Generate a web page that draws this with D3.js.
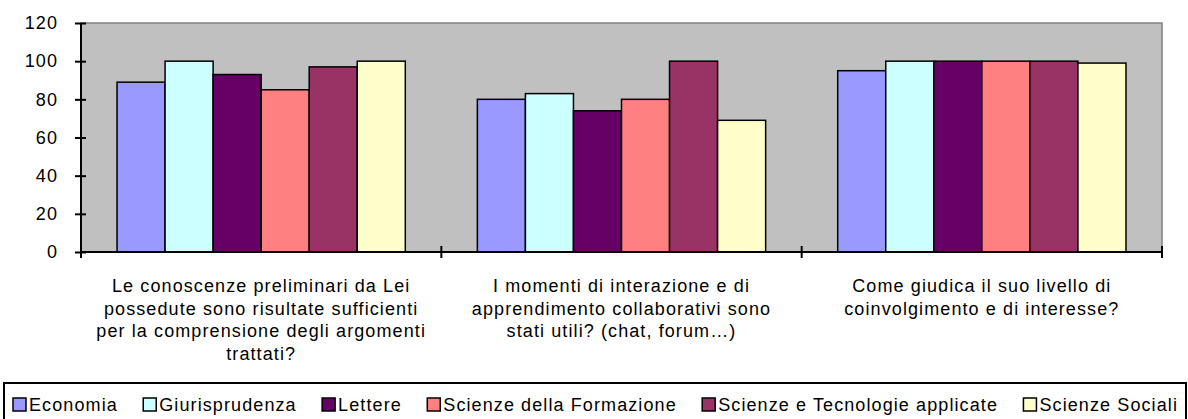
<!DOCTYPE html>
<html>
<head>
<meta charset="utf-8">
<script src="https://cdn.jsdelivr.net/npm/d3@7"></script>
<style>
  body { margin: 0; background: #fff; }
  text { font-family: "Liberation Sans", Arial, sans-serif; }
</style>
</head>
<body>
<div id="chart"></div>
<script>
// categorie (domande) e serie (facoltà)
const categories = [
  ["Le conoscenze preliminari da Lei", "possedute sono risultate sufficienti", "per la comprensione degli argomenti", "trattati?"],
  ["I momenti di interazione e di", "apprendimento collaborativi sono", "stati utili? (chat, forum…)"],
  ["Come giudica il suo livello di", "coinvolgimento e di interesse?"]
];
const series = ["Economia", "Giurisprudenza", "Lettere", "Scienze della Formazione", "Scienze e Tecnologie applicate", "Scienze Sociali"];
const economia = [89, 80, 95];
const giurisprudenza = [100, 83, 100];
const lettere = [93, 74, 100];
const formazione = [85, 80, 100];
const tecnologie = [97, 100, 100];
const sociali = [100, 69, 99];
const yTicks = [0, 20, 40, 60, 80, 100, 120];
const colori = ["#9999FF", "#CCFFFF", "#660066", "#FF8080", "#993366", "#FFFFCC"];

const values = [economia, giurisprudenza, lettere, formazione, tecnologie, sociali];

const W = 1188, H = 419;
const margin = { top: 23, right: 26, bottom: 167, left: 81 },
      width = W - margin.left - margin.right,
      height = H - margin.top - margin.bottom;

const FS = 18, LS = 1.1; // dimensione e spaziatura del testo

const svg = d3.select("#chart")
    .append("svg")
    .attr("width", W)
    .attr("height", H);

const g = svg.append("g")
    .attr("transform", `translate(${margin.left},${margin.top})`);

const x0 = d3.scaleBand()
    .domain(d3.range(categories.length))
    .range([0, width]);

const x1 = d3.scaleBand()
    .domain(d3.range(series.length))
    .range([0, x0.bandwidth()])
    .paddingOuter(0.75);

const y = d3.scaleLinear()
    .domain([0, 120])
    .range([height, 0]);

// sfondo area del grafico
g.append("rect")
    .attr("width", width)
    .attr("height", height)
    .attr("fill", "#C0C0C0")
    .attr("stroke", "#808080")
    .attr("stroke-width", 1.5);

// barre
const gruppi = g.selectAll(".gruppo")
    .data(categories)
    .enter()
    .append("g")
    .attr("class", "gruppo")
    .attr("transform", (d, i) => `translate(${x0(i)},0)`);

gruppi.selectAll("rect")
    .data((d, i) => values.map((s, j) => ({ s: j, v: s[i] })))
    .enter()
    .append("rect")
    .attr("x", d => x1(d.s))
    .attr("y", d => y(d.v))
    .attr("width", x1.bandwidth())
    .attr("height", d => y(0) - y(d.v))
    .attr("fill", d => colori[d.s])
    .attr("stroke", "#000")
    .attr("stroke-width", 1.5);

// asse Y
const yAxis = g.append("g")
    .call(d3.axisLeft(y).tickValues(yTicks).tickSize(6).tickPadding(17));
yAxis.select(".domain").attr("stroke", "#000").attr("stroke-width", 2).attr("d", `M0,0V${height}`);
yAxis.selectAll(".tick line").attr("x1", -6).attr("x2", 5).attr("stroke-width", 2);
yAxis.selectAll(".tick text")
    .attr("font-size", FS)
    .attr("letter-spacing", LS)
    .attr("fill", "#000")
    .style("font-family", "'Liberation Sans', Arial, sans-serif");

// asse X
const xAxis = g.append("g")
    .attr("transform", `translate(0,${height})`);
xAxis.append("line")
    .attr("x1", 0).attr("x2", width)
    .attr("stroke", "#000").attr("stroke-width", 2);
xAxis.selectAll(".tk")
    .data(d3.range(categories.length + 1))
    .enter()
    .append("line")
    .attr("x1", i => i < categories.length ? x0(i) : width)
    .attr("x2", i => i < categories.length ? x0(i) : width)
    .attr("y1", -6).attr("y2", 6)
    .attr("stroke", "#000").attr("stroke-width", 2);

// etichette delle categorie
const labels = xAxis.selectAll(".lab")
    .data(categories)
    .enter()
    .append("text")
    .attr("text-anchor", "middle")
    .attr("font-size", FS)
    .attr("letter-spacing", LS)
    .attr("fill", "#000")
    .attr("x", (d, i) => x0(i) + x0.bandwidth() / 2)
    .attr("y", 40);
labels.selectAll("tspan")
    .data(d => d)
    .enter()
    .append("tspan")
    .attr("x", function() { return this.parentNode.getAttribute("x"); })
    .attr("dy", (d, i) => i === 0 ? 0 : 22.5)
    .text(d => d);

// legenda
const legenda = svg.append("g");
legenda.append("rect")
    .attr("x", 4).attr("y", 383)
    .attr("width", 1182).attr("height", 40)
    .attr("fill", "#fff")
    .attr("stroke", "#000")
    .attr("stroke-width", 2);

const voci = legenda.selectAll(".voce")
    .data(series)
    .enter()
    .append("g");
voci.append("rect")
    .attr("width", 13).attr("height", 13)
    .attr("fill", (d, i) => colori[i])
    .attr("stroke", "#000")
    .attr("stroke-width", 1.5);
voci.append("text")
    .attr("x", 16).attr("y", 13)
    .attr("font-size", FS)
    .attr("letter-spacing", LS)
    .attr("fill", "#000")
    .text(d => d);

// disposizione in fila, spazi uguali tra le voci
const larghezze = voci.select("text").nodes().map(n => 16 + n.getComputedTextLength());
const inizio = 13, fine = 1178;
const spazio = (fine - inizio - d3.sum(larghezze)) / (series.length - 1);
let pos = inizio;
voci.each(function(d, i) {
    d3.select(this).attr("transform", `translate(${pos},398)`);
    pos += larghezze[i] + spazio;
});
</script>
</body>
</html>
